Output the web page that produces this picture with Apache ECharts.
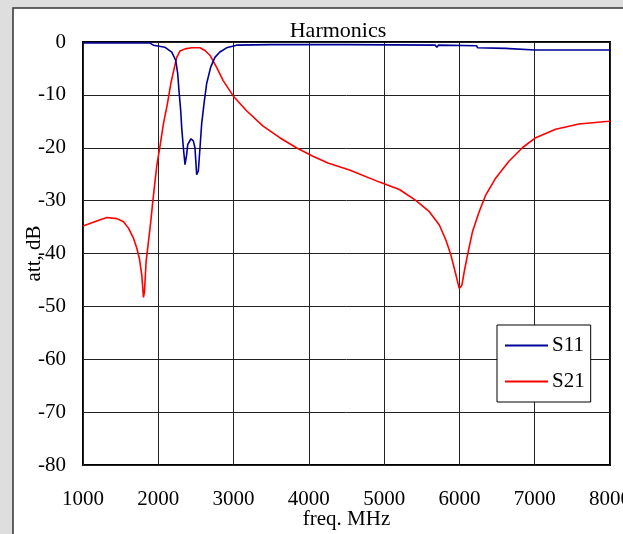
<!DOCTYPE html>
<html>
<head>
<meta charset="utf-8">
<script src="https://cdn.jsdelivr.net/npm/echarts@6/dist/echarts.min.js"></script>
<style>
  html, body { margin: 0; padding: 0; background: #dedede; }
  #chart { width: 623px; height: 534px; }
</style>
</head>
<body>
<div id="chart"></div>
<script>
// S11 (reflection) trace
const s11Freq = [1000, 1500, 1891, 1935, 2090, 2179, 2232, 2258, 2275, 2298, 2311, 2333, 2355, 2377, 2391, 2434, 2465, 2487, 2510, 2532, 2554, 2576, 2607, 2642, 2695, 2752, 2818, 2907, 3040, 3500, 4500, 5680, 5700, 5720, 6230, 6240, 6610, 6630, 7000, 8000];
const s11Att = [-0.2, -0.2, -0.2, -0.6, -1.0, -1.9, -3.5, -6.0, -9.2, -13, -16.2, -20, -23.2, -21.3, -19.4, -18.3, -18.7, -20, -25.1, -24.4, -20, -15.5, -11.7, -7.9, -4.8, -2.9, -1.9, -1.1, -0.6, -0.5, -0.5, -0.6, -1.0, -0.6, -0.7, -1.1, -1.2, -1.5, -1.5, -1.5];

// S21 (transmission) trace
const s21Freq = [1000, 1229, 1318, 1450, 1538, 1604, 1670, 1715, 1750, 1781, 1803, 1816, 1838, 1869, 1900, 1927, 1950, 1980, 2024, 2068, 2121, 2166, 2214, 2245, 2289, 2355, 2444, 2554, 2620, 2686, 2775, 2862, 2995, 3172, 3392, 3613, 3834, 4054, 4253, 4540, 4938, 5203, 5424, 5600, 5733, 5821, 5887, 5944, 5997, 6033, 6063, 6107, 6173, 6262, 6351, 6483, 6660, 6836, 7013, 7278, 7587, 7987, 8000];
const s21Att = [-34.8, -33.6, -33.2, -33.4, -34, -35.2, -37.1, -39, -41, -44.1, -48.3, -47.3, -41.6, -37.8, -34, -30.2, -27.2, -23.4, -19.6, -15.5, -11.7, -7.9, -4.8, -2.9, -1.7, -1.3, -1.1, -1.1, -1.6, -2.5, -4.8, -7.3, -10.2, -13, -15.9, -18.1, -20, -21.6, -22.9, -24.2, -26.5, -27.9, -30, -32.1, -34.6, -37.5, -40.3, -43.5, -46.6, -46, -43.5, -40.3, -35.9, -32.1, -28.9, -25.7, -22.5, -20, -18.1, -16.5, -15.5, -15, -14.9];

const seriesNames = ["S11", "S21"];

const font = "'Liberation Serif', 'DejaVu Serif', serif";

const chart = echarts.init(document.getElementById("chart"));

const option = {
  animation: false,
  backgroundColor: "#dedede",
  graphic: [
    {
      type: "rect",
      shape: { x: 13, y: 8, width: 640, height: 560 },
      style: { fill: "#ffffff", stroke: "#333333", lineWidth: 1.5 },
      z: -10,
    },
  ],
  title: {
    text: "Harmonics",
    left: 333,
    top: 15,
    textAlign: "center",
    textStyle: { fontFamily: font, fontSize: 22, fontWeight: "normal", color: "#000" },
  },
  legend: {
    left: 497,
    top: 325,
    orient: "vertical",
    backgroundColor: "#fff",
    borderColor: "#000",
    borderWidth: 1,
    borderRadius: 0,
    padding: [10, 6, 10, 8],
    itemGap: 15,
    itemWidth: 43,
    itemHeight: 2,
    icon: "rect",
    textStyle: { fontFamily: font, fontSize: 21, color: "#000", padding: [0, 0, 0, -1] },
    data: seriesNames,
  },
  grid: {
    left: 83,
    top: 42,
    right: 13,
    bottom: 69,
    outerBoundsMode: "none",
    containLabel: false,
    show: true,
    borderColor: "#000",
    borderWidth: 2,
    backgroundColor: "#fff",
  },
  xAxis: {
    type: "value",
    min: 1000,
    max: 8000,
    interval: 1000,
    name: "freq. MHz",
    nameLocation: "middle",
    nameGap: 44,
    nameMoveOverlap: false,
    nameTextStyle: { fontFamily: font, fontSize: 21, color: "#000" },
    axisLine: { show: false },
    axisTick: { show: false },
    axisLabel: { fontFamily: font, fontSize: 21, color: "#000", margin: 24, formatter: (v) => String(v) },
    splitLine: { show: true, lineStyle: { color: "#222", width: 1 } },
  },
  yAxis: {
    type: "value",
    min: -80,
    max: 0,
    interval: 10,
    name: "att, dB",
    nameLocation: "middle",
    nameGap: 38,
    nameMoveOverlap: false,
    nameTextStyle: { fontFamily: font, fontSize: 21, color: "#000" },
    axisLine: { show: false },
    axisTick: { show: false },
    axisLabel: { fontFamily: font, fontSize: 21, color: "#000", margin: 17, formatter: (v) => String(v) },
    splitLine: { show: true, lineStyle: { color: "#222", width: 1 } },
  },
  series: [
    {
      name: seriesNames[0],
      type: "line",
      symbol: "none",
      color: "#000099",
      lineStyle: { width: 1.6, color: "#000099" },
      data: s11Freq.map((f, i) => [f, s11Att[i]]),
      z: 3,
    },
    {
      name: seriesNames[1],
      type: "line",
      symbol: "none",
      color: "#ff0000",
      lineStyle: { width: 1.6, color: "#ff0000" },
      data: s21Freq.map((f, i) => [f, s21Att[i]]),
      z: 2,
    },
  ],
};

chart.setOption(option);
</script>
</body>
</html>
